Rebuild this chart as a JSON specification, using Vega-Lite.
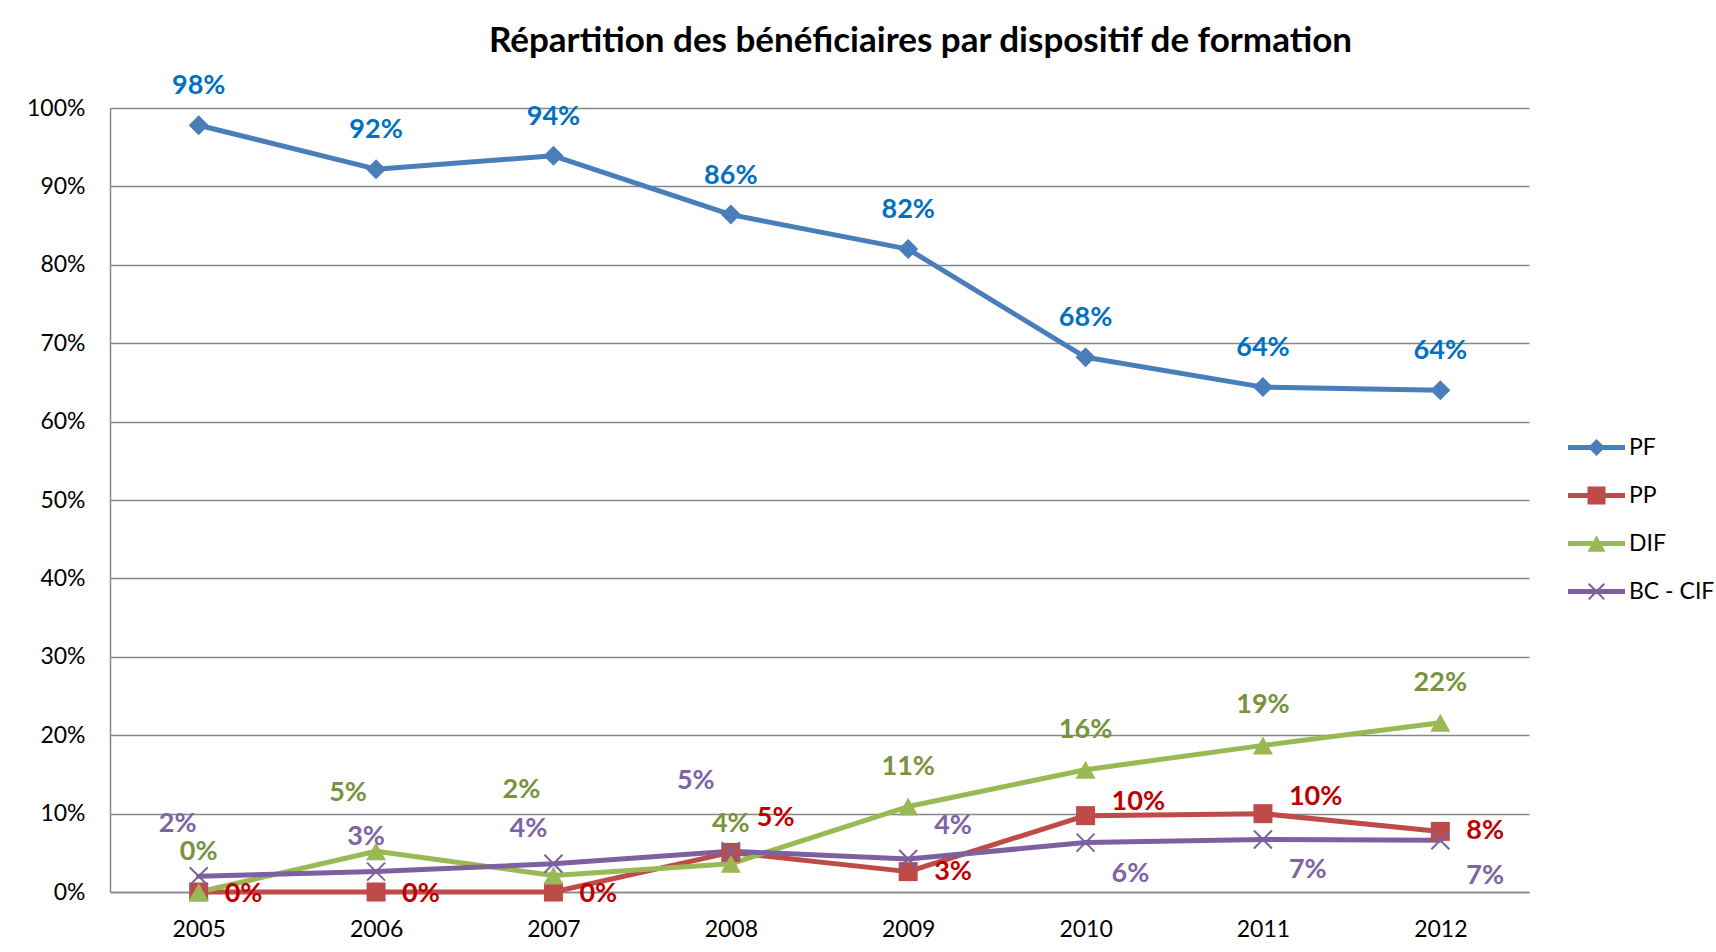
{
  "$schema": "https://vega.github.io/schema/vega-lite/v6.json",
  "autosize": {"type": "none"},
  "width": 1419,
  "height": 784,
  "padding": {"left": 110, "top": 108, "right": 187, "bottom": 60},
  "background": "white",
  "config": {
    "view": {"stroke": null},
    "font": "Lato",
    "axis": {"labelFont": "Lato", "labelFontSize": 23, "labelColor": "#000000", "title": null, "ticks": false, "tickSize": 0, "domainColor": "#868686", "domainWidth": 1.5, "gridColor": "#868686", "gridWidth": 1.5}
  },
  "title": {
    "text": "Répartition des bénéficiaires par dispositif de formation",
    "font": "Lato",
    "fontSize": 35,
    "fontWeight": "bold",
    "color": "#000000",
    "anchor": "middle",
    "frame": "group",
    "dx": 101,
    "baseline": "bottom",
    "offset": -22
  },
  "data": {
    "values": [
      {"year": "2005", "series": "PF", "value": 0.978},
      {"year": "2006", "series": "PF", "value": 0.922},
      {"year": "2007", "series": "PF", "value": 0.939},
      {"year": "2008", "series": "PF", "value": 0.864},
      {"year": "2009", "series": "PF", "value": 0.820},
      {"year": "2010", "series": "PF", "value": 0.682},
      {"year": "2011", "series": "PF", "value": 0.644},
      {"year": "2012", "series": "PF", "value": 0.640},
      {"year": "2005", "series": "PP", "value": 0.0},
      {"year": "2006", "series": "PP", "value": 0.0},
      {"year": "2007", "series": "PP", "value": 0.0},
      {"year": "2008", "series": "PP", "value": 0.0505},
      {"year": "2009", "series": "PP", "value": 0.026},
      {"year": "2010", "series": "PP", "value": 0.0974},
      {"year": "2011", "series": "PP", "value": 0.0999},
      {"year": "2012", "series": "PP", "value": 0.0773},
      {"year": "2005", "series": "DIF", "value": 0.0},
      {"year": "2006", "series": "DIF", "value": 0.052},
      {"year": "2007", "series": "DIF", "value": 0.021},
      {"year": "2008", "series": "DIF", "value": 0.036},
      {"year": "2009", "series": "DIF", "value": 0.109},
      {"year": "2010", "series": "DIF", "value": 0.156},
      {"year": "2011", "series": "DIF", "value": 0.187},
      {"year": "2012", "series": "DIF", "value": 0.216},
      {"year": "2005", "series": "BC - CIF", "value": 0.020},
      {"year": "2006", "series": "BC - CIF", "value": 0.026},
      {"year": "2007", "series": "BC - CIF", "value": 0.036},
      {"year": "2008", "series": "BC - CIF", "value": 0.052},
      {"year": "2009", "series": "BC - CIF", "value": 0.042},
      {"year": "2010", "series": "BC - CIF", "value": 0.063},
      {"year": "2011", "series": "BC - CIF", "value": 0.067},
      {"year": "2012", "series": "BC - CIF", "value": 0.066}
    ]
  },
  "encoding": {
    "x": {
      "field": "year", "type": "ordinal",
      "scale": {"type": "point", "padding": 0.5},
      "axis": {"labelAngle": 0, "labelPadding": 26, "grid": false, "domain": true}
    },
    "y": {
      "field": "value", "type": "quantitative",
      "scale": {"domain": [0, 1], "nice": false},
      "axis": {"values": [0, 0.1, 0.2, 0.3, 0.4, 0.5, 0.6, 0.7, 0.8, 0.9, 1.0], "format": ".0%", "grid": true, "domain": true, "labelPadding": 25}
    }
  },
  "layer": [
    {
      "mark": {"type": "line", "strokeWidth": 5, "strokeJoin": "round", "strokeCap": "round"},
      "encoding": {
        "color": {
          "field": "series", "type": "nominal",
          "scale": {"domain": ["PF", "PP", "DIF", "BC - CIF"], "range": ["#4A7EBB", "#BE4B48", "#98B954", "#7D60A0"]},
          "legend": {
            "title": null,
            "orient": "none",
            "legendX": 1458,
            "legendY": 311,
            "padding": 0,
            "symbolSize": 3249,
            "symbolStrokeWidth": 0,
            "labelFont": "Lato",
            "labelFontSize": 23,
            "labelColor": "#000000",
            "labelOffset": 4,
            "rowPadding": 7,
            "encode": {
              "symbols": {
                "update": {
                  "shape": {"signal": "datum.value === 'PF' ? 'M-1,-0.088H1V0.088H-1Z M0,-0.3L0.3,0L0,0.3L-0.3,0Z' : datum.value === 'PP' ? 'M-1,-0.088H1V0.088H-1Z M-0.316,-0.316H0.316V0.316H-0.316Z' : datum.value === 'DIF' ? 'M-1,-0.088H1V0.088H-1Z M0,-0.29L0.316,0.29L-0.316,0.29Z' : 'M-1,-0.088H1V0.088H-1Z M0,-0.05L0.25,-0.3L0.3,-0.25L0.05,0L0.3,0.25L0.25,0.3L0,0.05L-0.25,0.3L-0.3,0.25L-0.05,0L-0.3,-0.25L-0.25,-0.3Z'"},
                  "fill": {"scale": "color", "field": "value"},
                  "stroke": {"value": "transparent"},
                  "strokeWidth": {"value": 0},
                  "opacity": {"value": 1},
                  "fillOpacity": {"value": 1}
                }
              }
            }
          }
        }
      }
    },
    {
      "transform": [{"filter": "datum.series !== 'BC - CIF'"}],
      "mark": {
        "type": "point", "filled": true, "opacity": 1, "size": 400,
        "shape": {"expr": "datum.series === 'PF' ? 'M-1,0L0,-1L1,0L0,1Z' : datum.series === 'PP' ? 'M-0.95,-0.95H0.95V0.95H-0.95Z' : 'M0,-0.9L1,0.9L-1,0.9Z'"}
      },
      "encoding": {
        "color": {"field": "series", "type": "nominal"}
      }
    },
    {
      "transform": [{"filter": "datum.series === 'BC - CIF'"}],
      "mark": {"type": "point", "filled": false, "opacity": 1, "size": 400, "strokeWidth": 2, "shape": "M-0.9,-0.9L0.9,0.9M-0.9,0.9L0.9,-0.9"},
      "encoding": {
        "color": {"field": "series", "type": "nominal"}
      }
    },
    {
      "mark": {
        "type": "text",
        "font": "Lato",
        "fontSize": 27,
        "fontWeight": "bold",
        "baseline": "middle",
        "align": {"expr": "datum.series === 'PP' || (datum.series === 'BC - CIF' && datum.year >= '2009') ? 'left' : 'center'"},
        "dx": {"expr": "datum.series === 'PP' ? 26 : datum.series === 'BC - CIF' ? (datum.year === '2005' ? -21 : datum.year === '2006' ? -10 : datum.year === '2007' ? -25 : datum.year === '2008' ? -35 : 26) : datum.series === 'DIF' ? (datum.year === '2006' ? -28 : datum.year === '2007' ? -32 : 0) : 0"},
        "dy": {"expr": "datum.series === 'PF' ? -39 : datum.series === 'DIF' ? (datum.year === '2006' ? -58 : datum.year === '2007' ? -86 : -40) : datum.series === 'PP' ? (datum.year === '2008' ? -34 : datum.year === '2010' ? -14 : datum.year === '2011' ? -17 : datum.year <= '2007' ? 2 : 0) : (datum.year === '2005' ? -52 : datum.year === '2006' ? -35 : datum.year === '2007' ? -35 : datum.year === '2008' ? -70 : datum.year === '2009' ? -33 : datum.year === '2012' ? 36 : 31)"}
      },
      "encoding": {
        "text": {"field": "value", "type": "quantitative", "format": ".0%"},
        "fill": {
          "field": "series", "type": "nominal",
          "scale": {"domain": ["PF", "PP", "DIF", "BC - CIF"], "range": ["#0070C0", "#C00000", "#77933C", "#8064A2"]},
          "legend": null
        }
      }
    }
  ]
}
